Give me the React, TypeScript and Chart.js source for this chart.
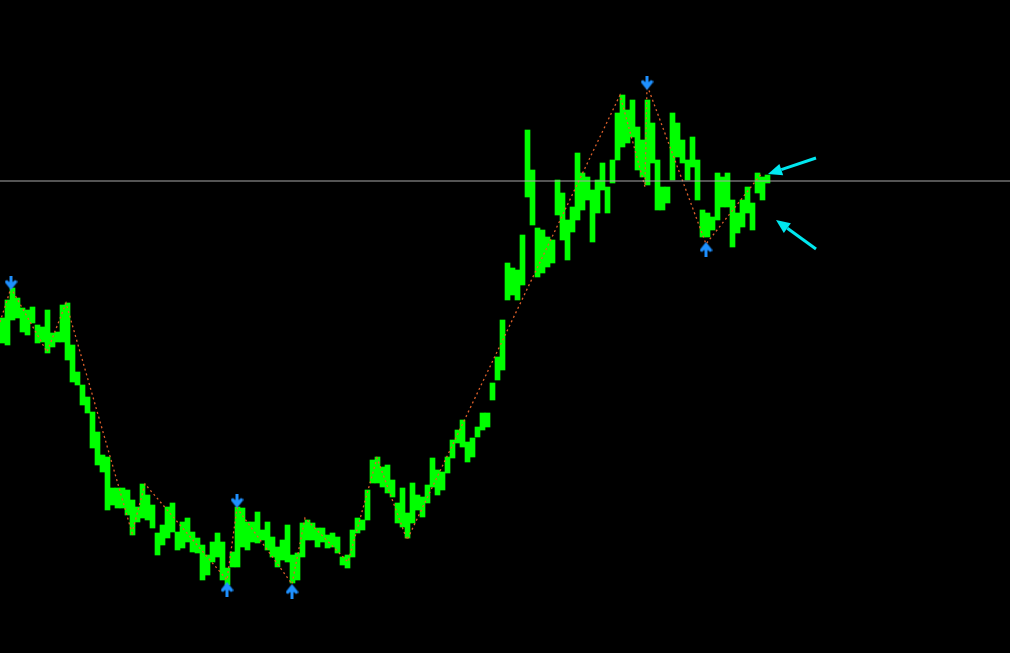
import React, { useEffect, useRef } from 'react';
import { Chart, registerables } from 'chart.js';

Chart.register(...registerables);

// Price bars (chart units, y measured downward from top of window; axis is reversed)
const barHighs = [
  318, 300, 288, 298, 308, 310, 307, 325, 327, 310, 333, 332, 305, 303, 345, 372, 385, 397, 412, 432,
  455, 457, 488, 488, 488, 490, 500, 507, 484, 495, 505, 533, 525, 507, 503, 532, 522, 518, 532, 538,
  545, 555, 542, 533, 542, 568, 552, 507, 508, 522, 522, 512, 530, 522, 537, 547, 540, 525, 555, 553,
  523, 520, 523, 528, 528, 535, 533, 537, 557, 555, 530, 518, 520, 490, 460, 457, 467, 465, 480, 503,
  488, 513, 483, 495, 497, 485, 458, 470, 472, 457, 440, 430, 420, 442, 438, 427, 413, 413, 383, 357,
  320, 263, 268, 270, 235, 130, 170, 228, 230, 237, 240, 180, 193, 220, 207, 153, 173, 177, 190, 180,
  163, 187, 160, 113, 95, 110, 100, 127, 140, 100, 123, 160, 187, 187, 113, 123, 140, 160, 137, 160,
  210, 213, 217, 173, 177, 173, 200, 213, 200, 187, 203, 173, 177, 175,
];
const barLows = [
  343, 345, 320, 318, 332, 335, 323, 343, 342, 353, 347, 342, 342, 360, 382, 385, 405, 413, 448, 465,
  472, 510, 505, 508, 508, 515, 535, 522, 518, 520, 528, 555, 545, 538, 532, 550, 548, 542, 552, 553,
  580, 575, 562, 557, 580, 585, 567, 567, 547, 550, 542, 543, 540, 550, 557, 567, 560, 562, 583, 580,
  557, 540, 540, 547, 542, 548, 547, 553, 565, 568, 557, 533, 530, 520, 483, 483, 487, 493, 497, 523,
  527, 538, 523, 510, 517, 503, 487, 495, 490, 473, 458, 443, 447, 462, 457, 437, 430, 427, 400, 380,
  370, 300, 295, 300, 285, 197, 225, 277, 273, 267, 263, 215, 240, 260, 232, 220, 210, 200, 242, 213,
  190, 213, 183, 160, 147, 143, 137, 170, 177, 185, 163, 210, 210, 203, 180, 157, 163, 180, 167, 200,
  237, 237, 230, 220, 207, 207, 247, 233, 227, 213, 230, 193, 200, 183,
];
const barStep = 5;

// ZigZag vertices
const zigX = [0, 11, 47, 66, 132, 145, 227, 237, 292, 305, 348, 377, 407, 620, 645, 647, 706, 762];
const zigY = [322, 288, 352, 303, 533, 484, 580, 508, 584, 518, 562, 458, 540, 95, 187, 85, 244, 173];

// Fractal-style arrows
const downArrowX = [11, 237, 647];
const downArrowY = [283, 501, 83];
const upArrowX = [227, 292, 706];
const upArrowY = [589, 591, 249];

// Horizontal level
const levelValue = 181;

// Cyan drawn arrows
const cyanFromX = [816, 816];
const cyanFromY = [158, 249];
const cyanToX = [768, 776];
const cyanToY = [174, 220];

function makeArrow(dir: 'up' | 'down'): HTMLCanvasElement {
  const c = document.createElement('canvas');
  c.width = 13;
  c.height = 15;
  const g = c.getContext('2d')!;
  if (dir === 'up') {
    g.translate(0, 15);
    g.scale(1, -1);
  }
  g.fillStyle = '#1e90ff';
  g.fillRect(5, 0, 3, 9);
  g.beginPath();
  g.moveTo(0.5, 5.5);
  g.lineTo(2.5, 4.5);
  g.lineTo(6.5, 8);
  g.lineTo(10.5, 4.5);
  g.lineTo(12.5, 5.5);
  g.lineTo(12.5, 7);
  g.lineTo(6.5, 14.5);
  g.lineTo(0.5, 7);
  g.closePath();
  g.fill();
  return c;
}

export default function App() {
  const ref = useRef<HTMLCanvasElement | null>(null);
  useEffect(() => {
    document.body.style.margin = '0';
    document.body.style.background = '#000';
    const canvas = ref.current!;
    const bars = barHighs.map((h, i) => ({ x: i * barStep + barStep / 2, y: [barLows[i], h] }));
    const zig = zigX.map((x, i) => ({ x, y: zigY[i] }));
    const downPts = downArrowX.map((x, i) => ({ x, y: downArrowY[i] }));
    const upPts = upArrowX.map((x, i) => ({ x, y: upArrowY[i] }));
    const level = [{ x: 0, y: levelValue }, { x: 1010, y: levelValue }];

    const bgPlugin = {
      id: 'bg',
      beforeDraw(chart: any) {
        const ctx = chart.ctx;
        ctx.save();
        ctx.fillStyle = '#000000';
        ctx.fillRect(0, 0, chart.width, chart.height);
        ctx.restore();
      },
    };
    const cyanPlugin = {
      id: 'cyanArrows',
      afterDatasetsDraw(chart: any) {
        const ctx = chart.ctx;
        const xs = chart.scales.x;
        const ys = chart.scales.y;
        ctx.save();
        ctx.strokeStyle = '#00e8f0';
        ctx.fillStyle = '#00e8f0';
        ctx.lineWidth = 3;
        for (let i = 0; i < cyanFromX.length; i++) {
          const x1 = xs.getPixelForValue(cyanFromX[i]);
          const y1 = ys.getPixelForValue(cyanFromY[i]);
          const x2 = xs.getPixelForValue(cyanToX[i]);
          const y2 = ys.getPixelForValue(cyanToY[i]);
          const ang = Math.atan2(y2 - y1, x2 - x1);
          const headLen = 14;
          const headW = 6;
          const bx = x2 - headLen * Math.cos(ang);
          const by = y2 - headLen * Math.sin(ang);
          ctx.beginPath();
          ctx.moveTo(x1, y1);
          ctx.lineTo(bx, by);
          ctx.stroke();
          ctx.beginPath();
          ctx.moveTo(x2, y2);
          ctx.lineTo(bx + headW * Math.sin(ang), by - headW * Math.cos(ang));
          ctx.lineTo(bx - headW * Math.sin(ang), by + headW * Math.cos(ang));
          ctx.closePath();
          ctx.fill();
        }
        ctx.restore();
      },
    };

    const chart = new Chart(canvas, {
      data: {
        datasets: [
          {
            type: 'line',
            data: level,
            borderColor: '#a8a8a8',
            borderWidth: 1,
            pointRadius: 0,
            order: 1,
          } as any,
          {
            type: 'line',
            data: zig,
            borderColor: '#e0602a',
            borderWidth: 1.3,
            borderDash: [2, 3],
            pointRadius: 0,
            tension: 0,
            order: 2,
          } as any,
          {
            type: 'bar',
            data: bars,
            backgroundColor: '#00ff00',
            borderWidth: 0,
            barPercentage: 1,
            categoryPercentage: 1,
            order: 3,
          } as any,
          {
            type: 'scatter',
            data: downPts,
            pointStyle: makeArrow('down'),
            order: 0,
          } as any,
          {
            type: 'scatter',
            data: upPts,
            pointStyle: makeArrow('up'),
            order: 0,
          } as any,
        ],
      },
      options: {
        animation: false,
        responsive: false,
        maintainAspectRatio: false,
        layout: { padding: 0, autoPadding: false },
        plugins: { legend: { display: false }, tooltip: { enabled: false } },
        events: [],
        scales: {
          x: { type: 'linear', min: 0, max: 1010, offset: false, display: false },
          y: { type: 'linear', min: 0, max: 653, reverse: true, offset: false, display: false },
        },
      },
      plugins: [bgPlugin, cyanPlugin],
    } as any);
    return () => chart.destroy();
  }, []);
  return (
    <div style={{ width: 1010, height: 653, background: '#000' }}>
      <canvas ref={ref} width={1010} height={653} style={{ display: 'block' }} />
    </div>
  );
}
